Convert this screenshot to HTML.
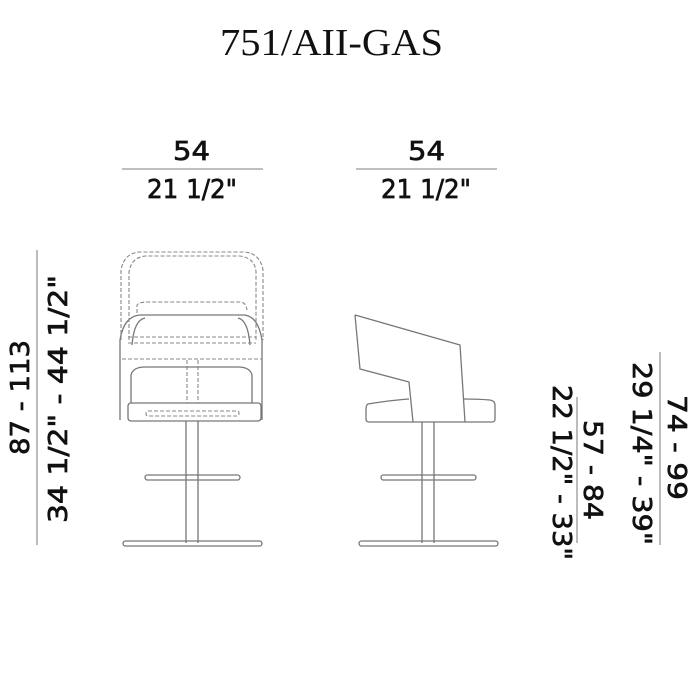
<!DOCTYPE html>
<html><head><style>body{margin:0;background:#fff}svg{display:block}</style></head><body>
<svg width="700" height="700" viewBox="0 0 700 700" xmlns="http://www.w3.org/2000/svg">
<rect width="700" height="700" fill="#fff"/>
<text x="220" y="55" font-family="Liberation Serif, serif" font-size="38" textLength="223" lengthAdjust="spacingAndGlyphs" fill="#111">751/AII-GAS</text>
<g font-family="DejaVu Sans, Liberation Sans, sans-serif" font-size="26" fill="#111" stroke="#111" stroke-width="0.7">
<text x="173" y="160" textLength="37" lengthAdjust="spacingAndGlyphs">54</text>
<text x="147" y="198" textLength="90" lengthAdjust="spacingAndGlyphs">21 1/2"</text>
<text x="408" y="160" textLength="37" lengthAdjust="spacingAndGlyphs">54</text>
<text x="381" y="198" textLength="90" lengthAdjust="spacingAndGlyphs">21 1/2"</text>
<text transform="translate(29,455) rotate(-90)" textLength="115" lengthAdjust="spacingAndGlyphs">87 - 113</text>
<text transform="translate(67,523) rotate(-90)" textLength="248" lengthAdjust="spacingAndGlyphs">34 1/2" - 44 1/2"</text>
<text transform="translate(584,420) rotate(90)" textLength="100" lengthAdjust="spacingAndGlyphs">57 - 84</text>
<text transform="translate(553,385) rotate(90)" textLength="175" lengthAdjust="spacingAndGlyphs">22 1/2" - 33"</text>
<text transform="translate(668,395) rotate(90)" textLength="105" lengthAdjust="spacingAndGlyphs">74 - 99</text>
<text transform="translate(633,362) rotate(90)" textLength="183" lengthAdjust="spacingAndGlyphs">29 1/4" - 39"</text>
</g>
<g stroke="#999" stroke-width="1.3" fill="none">
<line x1="122" y1="169" x2="263" y2="169"/>
<line x1="356" y1="169" x2="497" y2="169"/>
<line x1="37" y1="250" x2="37" y2="545"/>
<line x1="577" y1="397" x2="577" y2="543"/>
<line x1="660" y1="352" x2="660" y2="545"/>
</g>
<g stroke="#777" stroke-width="1.3" fill="none">
<path d="M120 420 L120 340 Q124 316 140 315 L244 315 Q258 316 262 340 L262 420" />
<path d="M132 345 Q134 320 145 318 M250 345 Q248 320 238 318"/>
<rect x="128" y="403" width="133" height="18" rx="3"/>
<path d="M131 403 L131 375 Q133 367 145 367 L238 367 Q250 367 252 375 L252 403"/>
<line x1="186" y1="421" x2="186" y2="543"/>
<line x1="198" y1="421" x2="198" y2="543"/>
<rect x="145" y="475" width="95" height="5" rx="2.5"/>
<rect x="123" y="541" width="139" height="5" rx="2.5"/>
<path d="M355 315 L360 369 L409 382 L413 422 M355 315 L460 345 L465 422"/>
<path d="M409 399 Q385 401 368 404 Q366 405 366 410 L366 419 Q366 422 369 422 L492 422 Q495 422 495 419 L495 405 Q495 401 490 400 Q478 399 464 399"/>
<line x1="422" y1="422" x2="422" y2="543"/>
<line x1="434" y1="422" x2="434" y2="543"/>
<rect x="381" y="475" width="95" height="5" rx="2.5"/>
<rect x="359" y="541" width="139" height="5" rx="2.5"/>
</g>
<g stroke="#888" stroke-width="1.1" fill="none" stroke-dasharray="4 2">
<path d="M121 340 L121 270 Q124 253 140 252 L244 252 Q260 253 263 270 L263 340"/>
<path d="M129 340 L129 272 Q131 258 145 256 L240 256 Q255 258 256 272 L256 340"/>
<path d="M137 313 L137 305 Q139 302 148 302 L240 302 Q246 302 247 310"/>
<line x1="128" y1="337" x2="256" y2="337"/>
<line x1="128" y1="343" x2="256" y2="343"/>
<line x1="122" y1="359" x2="262" y2="359"/>
<rect x="146" y="411" width="93" height="5" rx="2"/>
<line x1="187" y1="360" x2="187" y2="403"/>
<line x1="198" y1="360" x2="198" y2="403"/>
</g>
</svg>
</body></html>
